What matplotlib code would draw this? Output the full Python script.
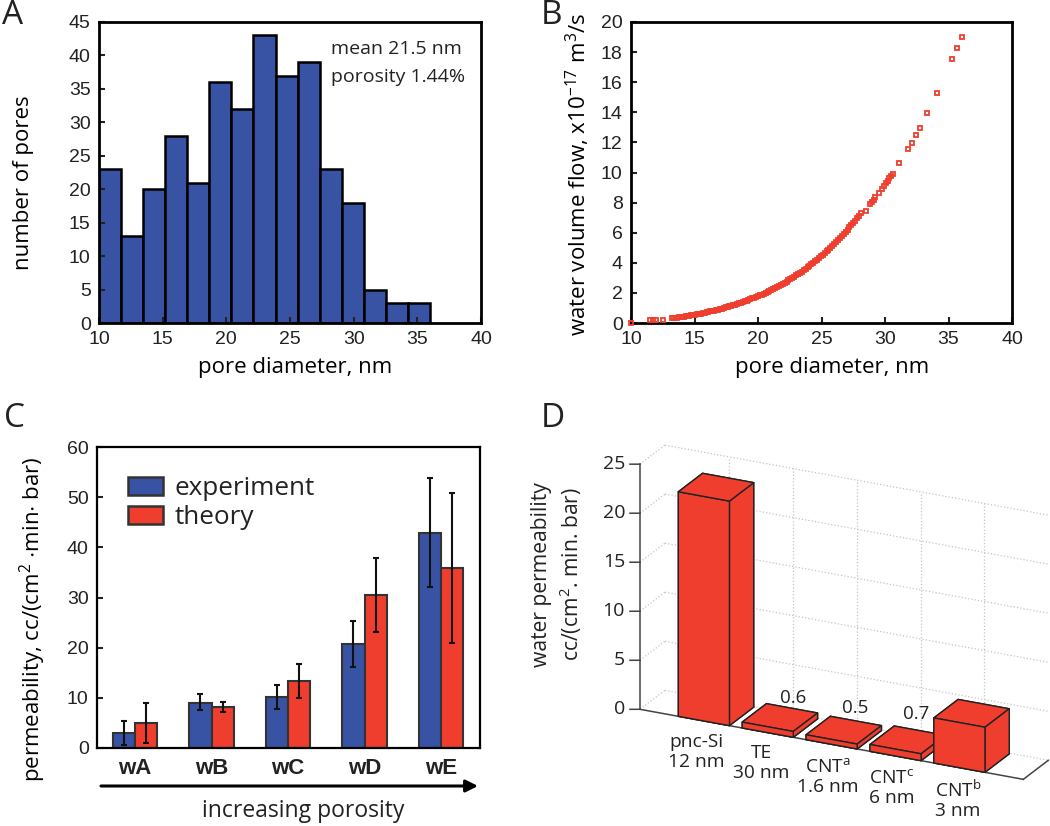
import numpy as np
import matplotlib
matplotlib.use("Agg")
import matplotlib.pyplot as plt
from matplotlib.patches import Patch
from mpl_toolkits.mplot3d import proj3d

W, H = 1050, 826
BLUE = "#3953A4"
RED = "#EF3E2D"
LABEL_FONT = ["Open Sans", "DejaVu Sans"]
TICK_FONT = ["Liberation Sans", "DejaVu Sans"]

plt.rcParams["font.family"] = LABEL_FONT
plt.rcParams["mathtext.default"] = "regular"
plt.rcParams["text.color"] = "#222222"

# ---- A: histogram ----
bin_edges = np.linspace(10, 36, 16)
pore_counts = [23, 13, 20, 28, 21, 36, 32, 43, 37, 39, 23, 18, 5, 3, 3]

# ---- B: flow vs diameter ----
flow_d = [10.0, 11.5, 11.7, 12.0, 12.5, 13.2, 13.4, 13.6, 13.8, 14.0, 14.15, 14.3, 14.45, 14.6, 14.75,
          14.9, 15.05, 15.2, 15.35, 15.5, 15.65, 15.8, 15.95, 16.1, 16.25, 16.4, 16.55, 16.7, 16.85, 17.0,
          17.15, 17.3, 17.45, 17.6, 17.75, 17.9, 18.05, 18.2, 18.35, 18.5, 18.65, 18.8, 18.95, 19.1, 19.25,
          19.4, 19.55, 19.7, 19.85, 20.0, 20.15, 20.3, 20.45, 20.6, 20.75, 20.9, 21.05, 21.2, 21.35, 21.5,
          21.65, 21.8, 21.95, 22.1, 22.25, 22.4, 22.55, 22.7, 22.85, 23.0, 23.15, 23.3, 23.45, 23.6, 23.75,
          23.9, 24.05, 24.2, 24.35, 24.5, 24.65, 24.8, 24.95, 25.1, 25.25, 25.4, 25.55, 25.7, 25.85, 26.0,
          26.15, 26.3, 26.45, 26.6, 26.75, 26.9, 27.05, 27.2, 27.35, 27.5, 27.65, 27.8, 27.95, 28.1, 28.5,
          28.8, 28.95, 29.1, 29.25, 29.5, 29.75, 29.9, 30.05, 30.2, 30.35, 30.5, 30.64,
          31.14, 31.8, 32.1, 32.45, 32.74, 33.34, 34.1, 35.3, 35.67, 36.04]
flow_q = [0.0, 0.2, 0.2, 0.2, 0.2, 0.3, 0.32, 0.35, 0.38, 0.41, 0.43, 0.45, 0.47, 0.49, 0.51,
          0.53, 0.55, 0.58, 0.6, 0.63, 0.65, 0.68, 0.71, 0.74, 0.77, 0.8, 0.83, 0.86, 0.89, 0.93,
          0.96, 1.0, 1.03, 1.07, 1.1, 1.14, 1.18, 1.22, 1.26, 1.3, 1.35, 1.39, 1.44, 1.48, 1.53,
          1.58, 1.63, 1.68, 1.73, 1.78, 1.84, 1.89, 1.95, 2.01, 2.07, 2.13, 2.19, 2.26, 2.32, 2.39,
          2.46, 2.53, 2.6, 2.68, 2.75, 2.83, 2.91, 2.99, 3.07, 3.16, 3.24, 3.33, 3.42, 3.51, 3.6,
          3.7, 3.8, 3.9, 4.0, 4.1, 4.2, 4.31, 4.42, 4.53, 4.64, 4.76, 4.88, 5.0, 5.12, 5.25,
          5.38, 5.51, 5.64, 5.78, 5.92, 6.06, 6.2, 6.35, 6.5, 6.65, 6.8, 6.96, 7.12, 7.28, 7.45,
          7.9, 8.05, 8.2, 8.38, 8.62, 8.9, 9.1, 9.28, 9.45, 9.62, 9.78, 9.92,
          10.63, 11.54, 11.96, 12.5, 12.93, 13.98, 15.28, 17.54, 18.25, 19.0]

# ---- C: grouped bars ----
wafers = ["wA", "wB", "wC", "wD", "wE"]
experiment = [2.9, 9.0, 10.2, 20.8, 42.9]
experiment_lo = [0.5, 7.6, 7.8, 16.1, 32.0]
experiment_hi = [5.4, 10.7, 12.6, 25.4, 53.8]
theory = [4.9, 8.1, 13.3, 30.4, 35.9]
theory_lo = [0.9, 7.1, 10.0, 23.1, 20.9]
theory_hi = [9.0, 9.1, 16.7, 37.9, 50.9]

# ---- D: 3d bars ----
membranes = ["pnc-Si\n12 nm", "TE\n30 nm", "CNT$^{a}$\n1.6 nm", "CNT$^{c}$\n6 nm", "CNT$^{b}$\n3 nm"]
water_perm = [22.9, 0.6, 0.5, 0.7, 4.6]
value_labels = ["", "0.6", "0.5", "0.7", ""]


def box(left, top, right, bottom):
    # pixel box of the reference -> figure fractions
    return [left / W, 1 - bottom / H, (right - left) / W, (bottom - top) / H]


def fig_text(fig, x, y, s, **kw):
    kw.setdefault("ha", "center")
    kw.setdefault("va", "center")
    return fig.text(x / W, 1 - y / H, s, **kw)


def set_labels(ax, rect, xlabel=None, xl=None, ylabel=None, yl=None, size=16):
    l, t, r, b = rect
    if xlabel:
        ax.set_xlabel(xlabel, fontsize=size, va="center")
        ax.xaxis.set_label_coords((xl[0] - l) / (r - l), (b - xl[1]) / (b - t))
    if ylabel:
        ax.set_ylabel(ylabel, fontsize=size, va="center")
        ax.yaxis.set_label_coords((yl[0] - l) / (r - l), (b - yl[1]) / (b - t))


def style_axes(ax, lw=2.0):
    for s in ax.spines.values():
        s.set_linewidth(lw)
        s.set_color("black")
    ax.tick_params(direction="in", length=4, width=1.5, color="#222222", labelsize=14, pad=6)
    for t in ax.get_xticklabels() + ax.get_yticklabels():
        t.set_fontfamily(TICK_FONT)
        t.set_color("#222222")


fig = plt.figure(figsize=(W / 100, H / 100), dpi=100)

# ================== A ==================
rect_a = (99, 22, 481, 323)
ax = fig.add_axes(box(*rect_a))
ax.bar(bin_edges[:-1], pore_counts, width=np.diff(bin_edges), align="edge",
       color=BLUE, edgecolor="black", linewidth=1.8)
ax.set_xlim(10, 40)
ax.set_ylim(0, 45)
ax.set_xticks(range(10, 41, 5))
ax.set_yticks(range(0, 46, 5))
style_axes(ax)
set_labels(ax, rect_a, "pore diameter, nm", (295, 368), "number of pores", (24, 183))
ax.text((331 - 99) / 382, (323 - 49) / 301, "mean 21.5 nm", transform=ax.transAxes, fontsize=14, va="center")
ax.text((331 - 99) / 382, (323 - 77) / 301, "porosity 1.44%", transform=ax.transAxes, fontsize=14, va="center")

# ================== B ==================
rect_b = (631, 22, 1012, 323)
ax = fig.add_axes(box(*rect_b))
ax.plot(flow_d, flow_q, ls="none", marker="s", ms=3.4, mfc="none", mec=RED, mew=1.3, clip_on=False, zorder=3)
ax.set_xlim(10, 40)
ax.set_ylim(0, 20)
ax.set_xticks(range(10, 41, 5))
ax.set_yticks(range(0, 21, 2))
style_axes(ax)
set_labels(ax, rect_b, "pore diameter, nm", (832, 368), "water volume flow, x10$^{-17}$ m$^{3}$/s", (578, 174))

# ================== C ==================
rect_c = (97, 447, 480, 748)
ax = fig.add_axes(box(*rect_c))
x = np.arange(len(wafers))
bar_w = 0.293
exp_err = [np.array(experiment) - experiment_lo, np.array(experiment_hi) - experiment]
th_err = [np.array(theory) - theory_lo, np.array(theory_hi) - theory]
err_kw = dict(ecolor="#111111", elinewidth=1.5, capsize=2.5, capthick=1.5)
ax.bar(x - bar_w / 2, experiment, bar_w, yerr=exp_err, color=BLUE, edgecolor="#333333", linewidth=1.5, error_kw=err_kw)
ax.bar(x + bar_w / 2, theory, bar_w, yerr=th_err, color=RED, edgecolor="#333333", linewidth=1.5, error_kw=err_kw)
ax.set_xlim(-0.498, 4.51)
ax.set_ylim(0, 60)
ax.set_xticks(x, wafers)
ax.set_yticks(range(0, 61, 10))
style_axes(ax, lw=1.6)
ax.tick_params(axis="x", length=0, pad=7)
for t in ax.get_xticklabels():
    t.set_fontweight("bold")
    t.set_fontsize(16)
set_labels(ax, rect_c, ylabel="permeability, cc/(cm$^{2}$ $\\cdot$min$\\cdot$ bar)", yl=(33, 619), size=16)
ax.legend(handles=[Patch(facecolor=BLUE, edgecolor="#333333", linewidth=1.8, label="experiment"),
                   Patch(facecolor=RED, edgecolor="#333333", linewidth=1.8, label="theory")],
          loc="upper left", bbox_to_anchor=(0.033, 0.965), frameon=False, fontsize=18.8,
          handlelength=1.35, handleheight=0.7, handletextpad=0.42, labelspacing=0.16, borderpad=0.2)
ax.annotate("", xy=(478 / W, 1 - 786 / H), xytext=(101 / W, 1 - 786 / H), xycoords="figure fraction",
            textcoords="figure fraction", annotation_clip=False,
            arrowprops=dict(arrowstyle="-|>", color="black", lw=2.2, mutation_scale=18, shrinkA=0, shrinkB=0))
fig_text(fig, 303, 811, "increasing porosity", fontsize=16.5)

# ================== D ==================
ax = fig.add_axes([0.5, 0.0, 0.5, 0.6], projection="3d", proj_type="ortho")
ax.set_facecolor("none")
ax.computed_zorder = False
ax.view_init(elev=21.9, azim=-63.9)
ax.set_box_aspect((426.5, 56.8, 264))
ax.set_xlim(0, 6, view_margin=0)
ax.set_ylim(0, 1, view_margin=0)
ax.set_zlim(0, 25, view_margin=0)
ax.set_axis_off()

GRID_Z = range(0, 26, 5)
GRID_X = range(1, 6)
dots = dict(color="#c4c4c4", ls=":", lw=0.9, zorder=1)
for z in GRID_Z:
    ax.plot([0, 6], [1, 1], [z, z], **dots)
    ax.plot([0, 0], [0, 1], [z, z], **dots)
for gx in GRID_X:
    ax.plot([gx, gx], [1, 1], [0, 25], **dots)
    ax.plot([gx, gx], [0, 1], [0, 0], **dots)

axis_kw = dict(color="#444444", lw=1.1, zorder=2)
ax.plot([0, 0], [0, 0], [0, 25], **axis_kw)
ax.plot([0, 6], [0, 0], [0, 0], **axis_kw)
ax.plot([6, 6], [0, 1], [0, 0], **axis_kw)
for z in GRID_Z:
    ax.plot([-0.126, 0], [-0.078, 0], [z, z], **axis_kw)

xpos = np.arange(1, 6) - 0.4
ax.bar3d(xpos, np.zeros(5), np.zeros(5), 0.8, 0.97, water_perm, color=RED, edgecolor="#222222",
         linewidth=1.0, shade=False, zorder=3)


def to_px(x3, y3, z3):
    xs, ys, _ = proj3d.proj_transform(x3, y3, z3, ax.get_proj())
    return ax.transData.transform((xs, ys))


# fit the 3d box onto the reference: axis origin and far end of the x axis
target0 = np.array([640.0, H - 709.3])
target1 = np.array([1023.3, H - 779.3])
for _ in range(3):
    fig.canvas.draw()
    p0, p1 = to_px(0, 0, 0), to_px(6, 0, 0)
    scale = (target1[0] - target0[0]) / (p1[0] - p0[0])
    bb = ax.get_position()
    cx, cy = (bb.x0 + bb.x1) / 2 * W, (bb.y0 + bb.y1) / 2 * H
    size = bb.width * W * scale
    new_p0 = np.array([cx, cy]) + (p0 - np.array([cx, cy])) * scale
    cx += target0[0] - new_p0[0]
    cy += target0[1] - new_p0[1]
    ax.set_position([(cx - size / 2) / W, (cy - size / 2) / H, size / W, size / H])
fig.canvas.draw()

for z in GRID_Z:
    px_z = to_px(0, 0, z)
    fig.text((px_z[0] - 15) / W, px_z[1] / H, str(z), ha="right", va="center", fontsize=14)

memb_xy = [(696, 752), (761, 763), (828, 777), (892, 788), (958, 800)]
for (mx, my), name in zip(memb_xy, membranes):
    fig_text(fig, mx, my, name, fontsize=13.8, linespacing=1.1)
val_xy = [(793, 698), (855, 708), (916, 714)]
for (vx, vy), name in zip(val_xy, [v for v in value_labels if v]):
    fig_text(fig, vx, vy, name, fontsize=13.5)
fig_text(fig, 541, 575, "water permeability", fontsize=15.2, rotation=90)
fig_text(fig, 571, 574, "cc/(cm$^{2}$. min. bar)", fontsize=15.2, rotation=90)

# panel letters
for letter, lx, ly in [("A", 13, 15), ("B", 551, 15), ("C", 14, 419), ("D", 553, 419)]:
    fig_text(fig, lx, ly, letter, fontsize=24)

fig.savefig("out.png", dpi=100)
